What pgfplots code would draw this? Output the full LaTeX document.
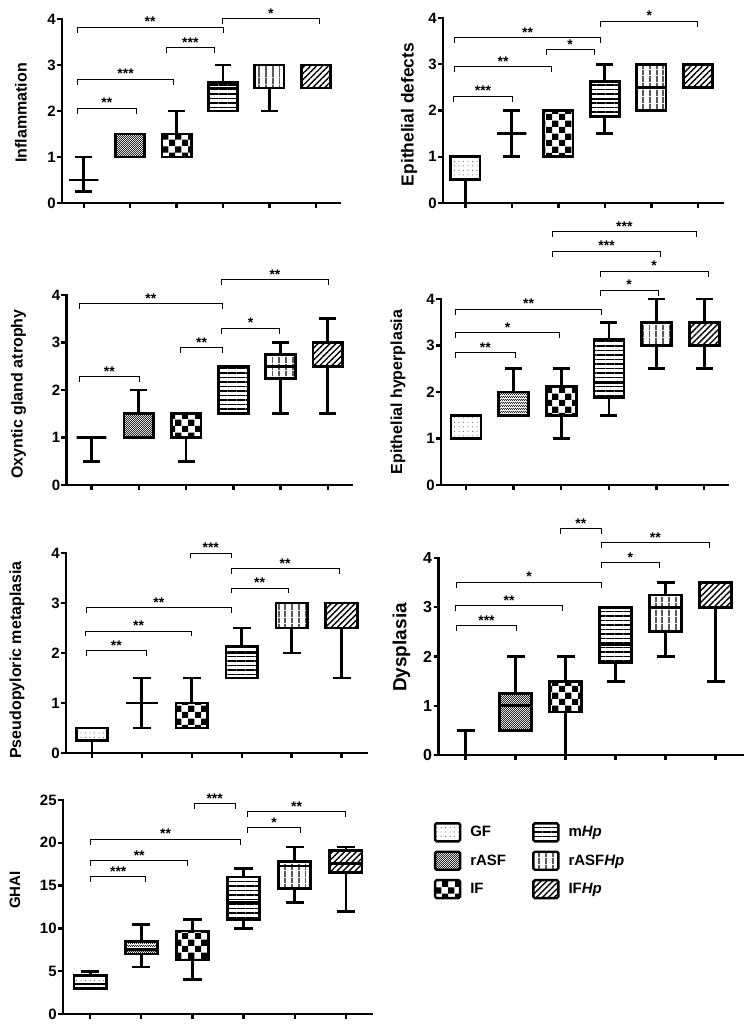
\documentclass[border=0pt]{standalone}
\usepackage{fontspec}
\setmainfont{Liberation Sans}
\usepackage{pgfplots}
\pgfplotsset{compat=1.18}
\usepgfplotslibrary{statistics}
\usetikzlibrary{patterns,patterns.meta,calc}

\pgfdeclarepatternformonly{bigchecker}{\pgfpointorigin}{\pgfqpoint{13pt}{13pt}}{\pgfqpoint{13pt}{13pt}}{%
  \pgfpathrectangle{\pgfpointorigin}{\pgfqpoint{6.5pt}{6.5pt}}%
  \pgfpathrectangle{\pgfqpoint{6.5pt}{6.5pt}}{\pgfqpoint{6.5pt}{6.5pt}}%
  \pgfusepath{fill}}
\pgfdeclarepatternformonly{finechecker}{\pgfpointorigin}{\pgfqpoint{2.4pt}{2.4pt}}{\pgfqpoint{2.4pt}{2.4pt}}{%
  \pgfpathrectangle{\pgfpointorigin}{\pgfqpoint{1.2pt}{1.2pt}}%
  \pgfpathrectangle{\pgfqpoint{1.2pt}{1.2pt}}{\pgfqpoint{1.2pt}{1.2pt}}%
  \pgfusepath{fill}}

\tikzset{
  pGF/.style={pattern={Dots[distance=4.5pt,radius=0.5pt]}, pattern color=black!70},
  pRA/.style={pattern=finechecker, pattern color=black!85},
  pIF/.style={pattern=bigchecker, pattern color=black},
  pMH/.style={pattern={Lines[angle=0,distance=4.5pt,line width=1.1pt]}, pattern color=black},
  pRH/.style={pattern={Lines[angle=90,distance=6.5pt,line width=1.3pt]}, pattern color=black},
  pIH/.style={pattern={Lines[angle=45,distance=4.2pt,line width=1.4pt]}, pattern color=black},
}

\newcommand{\starfont}{\fontsize{14}{16}\selectfont\bfseries}
\newcommand{\bx}[7]{%
  \addplot[forget plot, black, solid, line width=2.8pt, mark=none,
    boxplot prepared={draw position=#1, lower whisker=#2, lower quartile=#3,
      median=#4, upper quartile=#5, upper whisker=#6, every box/.style={#7}}]
    coordinates {};}
\newcommand{\br}[4]{%
  \draw[line width=0.9pt] (axis cs:#1,#3) ++(0pt,-5.5pt) -- (axis cs:#1,#3) -- (axis cs:#2,#3) -- ++(0pt,-5.5pt);
  \node[font=\starfont, anchor=base, inner sep=0pt, yshift=0.3pt] at ($(axis cs:#1,#3)!0.5!(axis cs:#2,#3)$) {#4};}
\newcommand{\lgimg}[1]{\addlegendimage{legend image code/.code={%
  \draw[line width=2.4pt,rounded corners=1.5pt,#1] (0pt,-9pt) rectangle (25pt,9pt);
  \path (33pt,0pt);}}}

\pgfplotsset{
  panel/.style={
    scale only axis, anchor=south west, clip=false,
    axis x line*=bottom, axis y line*=left,
    axis line style={-, line width=2.4pt, line cap=rect},
    xtick={1,2,3,4,5,6}, xticklabels={},
    tick align=outside, major tick length=5pt,
    major tick style={line width=2.4pt, black},
    minor tick num=0,
    ymin=0,
    /pgf/number format/assume math mode=true,
    tick label style={font=\fontsize{15}{17}\selectfont\bfseries},
    yticklabel style={inner sep=1.2pt},
    boxplot/draw direction=y,
    boxplot/box extend=0.63, boxplot/whisker extend=0.36,
  },
  ylab/.style n args={4}{ylabel={#1},
    ylabel style={at={([xshift=#2,yshift=#3]axis description cs:0,0.5)}, anchor=center,
      font=\fontsize{#4}{#4}\selectfont\bfseries}},
}

\begin{document}
\begin{tikzpicture}
\useasboundingbox (0pt,0pt) rectangle (751pt,1030pt);

% Panel 1: Inflammation
\begin{axis}[panel, at={(62pt,827pt)}, width=278pt, height=184pt,
  xmin=0.53, xmax=6.52, ymax=4, ytick={0,1,2,3,4}, ylab={Inflammation}{-41pt}{-2pt}{16}]
\bx{1}{0.25}{0.5}{0.5}{0.5}{1}{pGF}
\bx{2}{1}{1}{1.5}{1.5}{1.5}{pRA}
\bx{3}{1}{1}{1.5}{1.5}{2}{pIF}
\bx{4}{2}{2}{2.5}{2.625}{3}{pMH}
\bx{5}{2}{2.5}{3}{3}{3}{pRH}
\bx{6}{2.5}{2.5}{3}{3}{3}{pIH}
\br{0.86}{2.13}{2.06}{**}
\br{0.86}{2.94}{2.69}{***}
\br{2.78}{3.81}{3.38}{***}
\br{0.86}{4.0}{3.82}{**}
\br{3.99}{6.07}{4.01}{*}
\end{axis}

% Panel 2: Epithelial defects
\begin{axis}[panel, at={(443pt,827pt)}, width=280pt, height=185pt,
  xmin=0.52, xmax=6.54, ymax=4, ytick={0,1,2,3,4}, ylab={Epithelial defects}{-34pt}{-4pt}{17.4}]
\bx{1}{0}{0.5}{1}{1}{1}{pGF}
\bx{2}{1}{1.5}{1.5}{1.5}{2}{pRA}
\bx{3}{1}{1}{2}{2}{2}{pIF}
\bx{4}{1.5}{1.875}{2.25}{2.625}{3}{pMH}
\bx{5}{2}{2}{2.5}{3}{3}{pRH}
\bx{6}{2.5}{2.5}{3}{3}{3}{pIH}
\br{0.75}{2.01}{2.31}{***}
\br{0.77}{2.85}{2.95}{**}
\br{2.74}{3.77}{3.31}{*}
\br{0.77}{3.91}{3.58}{**}
\br{3.91}{6.0}{3.93}{*}
\end{axis}

% Panel 3: Oxyntic gland atrophy
\begin{axis}[panel, at={(66.5pt,545pt)}, width=285.5pt, height=190pt,
  xmin=0.47, xmax=6.51, ymax=4, ytick={0,1,2,3,4}, ylab={Oxyntic gland atrophy}{-48pt}{-4pt}{16}]
\bx{1}{0.5}{1}{1}{1}{1}{pGF}
\bx{2}{1}{1}{1.5}{1.5}{2}{pRA}
\bx{3}{0.5}{1}{1.5}{1.5}{1.5}{pIF}
\bx{4}{1.5}{1.5}{2.5}{2.5}{2.5}{pMH}
\bx{5}{1.5}{2.25}{2.5}{2.75}{3}{pRH}
\bx{6}{1.5}{2.5}{3}{3}{3.5}{pIH}
\br{0.74}{2.01}{2.28}{**}
\br{2.89}{3.77}{2.89}{**}
\br{3.75}{4.98}{3.30}{*}
\br{0.74}{3.77}{3.82}{**}
\br{3.74}{6.02}{4.32}{**}
\end{axis}

% Panel 4: Epithelial hyperplasia
\begin{axis}[panel, at={(441pt,545pt)}, width=287pt, height=186pt,
  xmin=0.475, xmax=6.5, ymax=4, ytick={0,1,2,3,4}, ylab={Epithelial hyperplasia}{-43pt}{0pt}{16}]
\bx{1}{1}{1}{1.5}{1.5}{1.5}{pGF}
\bx{2}{1.5}{1.5}{2}{2}{2.5}{pRA}
\bx{3}{1}{1.5}{2.125}{2.125}{2.5}{pIF}
\bx{4}{1.5}{1.875}{2.2}{3.125}{3.5}{pMH}
\bx{5}{2.5}{3}{3.5}{3.5}{4}{pRH}
\bx{6}{2.5}{3}{3.5}{3.5}{4}{pIH}
\br{0.78}{2.03}{2.84}{**}
\br{0.78}{2.97}{3.27}{*}
\br{0.78}{3.85}{3.78}{**}
\br{3.82}{5.03}{4.19}{*}
\br{3.82}{6.08}{4.60}{*}
\br{2.82}{5.08}{5.03}{***}
\br{2.82}{5.83}{5.45}{***}
\end{axis}

% Panel 5: Pseudopyloric metaplasia
\begin{axis}[panel, at={(66pt,277pt)}, width=301pt, height=200pt,
  xmin=0.48, xmax=6.51, ymax=4, ytick={0,1,2,3,4}, ylab={Pseudopyloric metaplasia}{-49pt}{-7pt}{16}]
\bx{1}{0}{0.25}{0.5}{0.5}{0.5}{pGF}
\bx{2}{0.5}{1}{1}{1}{1.5}{pRA}
\bx{3}{0.5}{0.5}{1}{1}{1.5}{pIF}
\bx{4}{1.5}{1.5}{2}{2.125}{2.5}{pMH}
\bx{5}{2}{2.5}{3}{3}{3}{pRH}
\bx{6}{1.5}{2.5}{3}{3}{3}{pIH}
\br{0.89}{2.09}{2.05}{**}
\br{0.87}{3.0}{2.44}{**}
\br{0.89}{3.79}{2.91}{**}
\br{3.79}{4.93}{3.30}{**}
\br{3.79}{5.95}{3.69}{**}
\br{2.97}{3.79}{4.0}{***}
\end{axis}

% Panel 6: Dysplasia
\begin{axis}[panel, at={(438.5pt,275pt)}, width=304.5pt, height=197pt,
  xmin=0.46, xmax=6.55, ymax=4, ytick={0,1,2,3,4}, ylab={Dysplasia}{-37pt}{9pt}{19},
  tick label style={font=\fontsize{16}{18}\selectfont\bfseries}]
\bx{1}{0}{0}{0}{0}{0.5}{pGF}
\bx{2}{0.5}{0.5}{1}{1.25}{2}{pRA}
\bx{3}{0}{0.875}{1.5}{1.5}{2}{pIF}
\bx{4}{1.5}{1.875}{2.25}{3}{3}{pMH}
\bx{5}{2}{2.5}{3}{3.25}{3.5}{pRH}
\bx{6}{1.5}{3}{3.5}{3.5}{3.5}{pIH}
\br{0.82}{2.02}{2.63}{***}
\br{0.80}{2.94}{3.03}{**}
\br{0.82}{3.72}{3.51}{*}
\br{3.72}{4.87}{3.90}{*}
\br{3.72}{5.87}{4.31}{**}
\br{2.89}{3.72}{4.59}{**}
\end{axis}

% Panel 7: GHAI
\begin{axis}[panel, at={(63pt,16pt)}, width=309pt, height=214pt,
  xmin=0.47, xmax=6.51, ymax=25, ytick={0,5,10,15,20,25}, ylab={GHAI}{-48pt}{17pt}{15},
  legend columns=3, transpose legend, legend cell align=left,
  legend style={at={(1.19,0.907)}, anchor=north west, draw=none, fill=none,
    font=\fontsize{15}{17}\selectfont\bfseries, row sep=8pt,
    /tikz/every even column/.append style={column sep=24pt}}]
\bx{1}{3}{3}{3.5}{4.5}{5}{pGF}
\bx{2}{5.5}{7}{7.5}{8.5}{10.5}{pRA}
\bx{3}{4}{6.3}{9.7}{9.7}{11}{pIF}
\bx{4}{10}{11}{13}{16}{17}{pMH}
\bx{5}{13}{14.7}{17.3}{17.8}{19.5}{pRH}
\bx{6}{12}{16.5}{17.6}{19.1}{19.5}{pIH}
\br{1.01}{2.09}{16.06}{***}
\br{1.01}{2.91}{17.88}{**}
\br{1.01}{3.94}{20.41}{**}
\br{4.07}{5.12}{21.77}{*}
\br{4.07}{6.0}{23.64}{**}
\br{3.03}{3.84}{24.61}{***}
\lgimg{pGF}\addlegendentry{GF}
\lgimg{pRA}\addlegendentry{rASF}
\lgimg{pIF}\addlegendentry{IF}
\lgimg{pMH}\addlegendentry{m\textit{Hp}}
\lgimg{pRH}\addlegendentry{rASF\textit{Hp}}
\lgimg{pIH}\addlegendentry{IF\textit{Hp}}
\end{axis}
\end{tikzpicture}
\end{document}
